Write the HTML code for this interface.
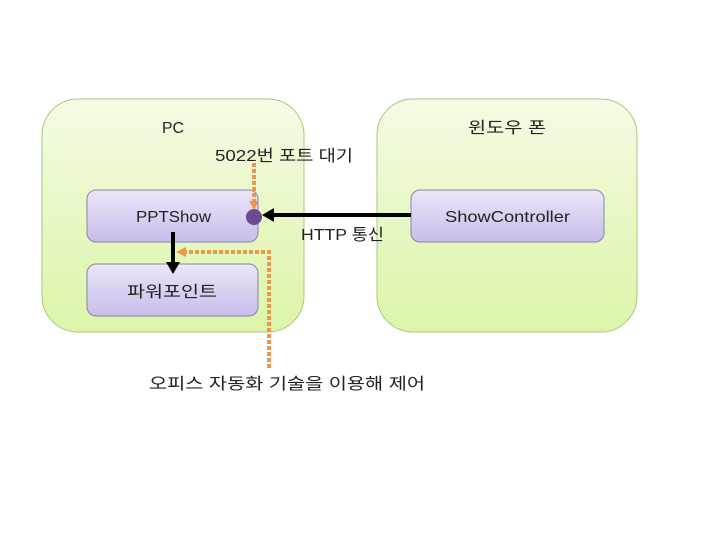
<html><body style="margin:0;width:720px;height:540px;background:#fff;overflow:hidden">
<svg width="720" height="540" xmlns="http://www.w3.org/2000/svg" style="font-family:'Liberation Sans','Noto Sans CJK KR',sans-serif">
<defs>
<linearGradient id="g" x1="0" y1="0" x2="0" y2="1"><stop offset="0" stop-color="#f4fbe4"/><stop offset="1" stop-color="#dcf5a8"/></linearGradient>
<linearGradient id="p" x1="0" y1="0" x2="0" y2="1"><stop offset="0" stop-color="#ece6f8"/><stop offset="1" stop-color="#c9bcea"/></linearGradient>
</defs>
<rect x="42" y="99" width="262" height="233" rx="36" fill="url(#g)" stroke="#a9c77a"/>
<rect x="377" y="99" width="260" height="233" rx="36" fill="url(#g)" stroke="#a9c77a"/>
<rect x="87" y="190" width="171" height="52" rx="9" fill="url(#p)" stroke="#8c80aa"/>
<rect x="87" y="264" width="171" height="52" rx="9" fill="url(#p)" stroke="#8c80aa"/>
<rect x="411" y="190" width="193" height="52" rx="9" fill="url(#p)" stroke="#8c80aa"/>
<g font-size="16" fill="#222">
<text x="162" y="133" textLength="22" lengthAdjust="spacingAndGlyphs">PC</text>
<text x="468" y="133" textLength="78" lengthAdjust="spacingAndGlyphs">윈도우 폰</text>
<text x="215" y="161" textLength="138" lengthAdjust="spacingAndGlyphs">5022번 포트 대기</text>
<text x="136" y="222" textLength="75" lengthAdjust="spacingAndGlyphs">PPTShow</text>
<text x="127" y="297" textLength="90" lengthAdjust="spacingAndGlyphs">파워포인트</text>
<text x="445" y="222" textLength="125" lengthAdjust="spacingAndGlyphs">ShowController</text>
<text x="301" y="240" textLength="83" lengthAdjust="spacingAndGlyphs">HTTP 통신</text>
<text x="149" y="389" textLength="276" lengthAdjust="spacingAndGlyphs">오피스 자동화 기술을 이용해 제어</text>
</g>
<line x1="411" y1="215" x2="272" y2="215" stroke="#000" stroke-width="4"/>
<polygon points="262,215 274,208 274,222" fill="#000"/>
<circle cx="254" cy="217" r="8" fill="#6a4b92"/>
<line x1="173" y1="232" x2="173" y2="264" stroke="#000" stroke-width="4"/>
<polygon points="173,274 166,262 180,262" fill="#000"/>
<g stroke="#f0964a" stroke-width="4" stroke-dasharray="4,2" fill="none">
<line x1="254" y1="163" x2="254" y2="202"/>
<polyline points="269,368 269,252 185,252"/>
</g>
<polygon points="254,210 249,201 259,201" fill="#f0964a"/>
<polygon points="176,252 186,247 186,257" fill="#f0964a"/>
</svg></body></html>
